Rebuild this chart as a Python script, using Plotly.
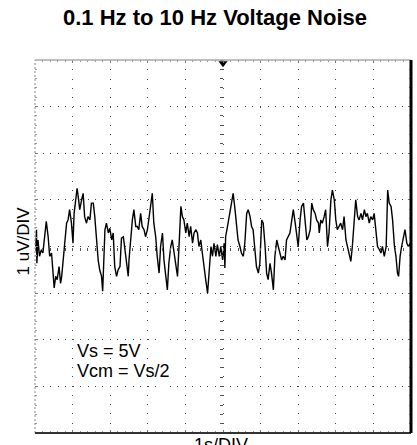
import plotly.graph_objects as go

# time in seconds (1 s/div), noise in microvolts (1 uV/div)
time_s = [
    0.02, 0.04, 0.05, 0.08, 0.12, 0.17, 0.21, 0.26, 0.30, 0.35, 0.39, 0.44, 0.48, 0.51, 0.55, 0.59,
    0.64, 0.68, 0.71, 0.75, 0.79, 0.84, 0.88, 0.92, 0.97, 1.01, 1.04, 1.08, 1.12, 1.16, 1.19, 1.24,
    1.28, 1.32, 1.37, 1.41, 1.46, 1.50, 1.55, 1.59, 1.64, 1.68, 1.72, 1.77, 1.80, 1.83, 1.86, 1.90,
    1.95, 1.99, 2.04, 2.08, 2.12, 2.17, 2.21, 2.26, 2.30, 2.35, 2.39, 2.44, 2.48,
    2.50, 2.54, 2.59, 2.63, 2.68, 2.72, 2.76, 2.81, 2.85, 2.90, 2.94, 2.99, 3.03, 3.08, 3.12, 3.16,
    3.21, 3.25, 3.30, 3.34, 3.39, 3.43, 3.48, 3.52, 3.56, 3.61, 3.65, 3.70, 3.74, 3.79, 3.83, 3.88,
    3.92, 3.96, 4.01, 4.05, 4.10, 4.14, 4.19, 4.23, 4.28, 4.32, 4.36, 4.41, 4.45, 4.50, 4.54, 4.59,
    4.63, 4.68, 4.72, 4.76, 4.81, 4.85, 4.90, 4.94, 4.99, 5.03,
    5.05, 5.07, 5.12, 5.18, 5.23, 5.27, 5.32, 5.36, 5.40, 5.45, 5.49, 5.54, 5.58, 5.63, 5.67, 5.72,
    5.76, 5.80, 5.85, 5.89, 5.94, 5.98, 6.03, 6.07, 6.12, 6.16, 6.20, 6.25, 6.29, 6.34, 6.38, 6.43,
    6.47, 6.52, 6.56, 6.60, 6.65, 6.69, 6.74, 6.78, 6.83, 6.87, 6.92, 6.96, 7.00, 7.05, 7.09, 7.14,
    7.18, 7.23, 7.27, 7.32, 7.36, 7.40, 7.45, 7.49, 7.54,
    7.56, 7.60, 7.64, 7.69, 7.73, 7.78, 7.82, 7.87, 7.91, 7.96, 8.00, 8.04, 8.09, 8.13, 8.18, 8.22,
    8.27, 8.31, 8.36, 8.40, 8.44, 8.49, 8.53, 8.58, 8.62, 8.67, 8.71, 8.76, 8.80, 8.84, 8.89, 8.93,
    8.98, 9.02, 9.07, 9.11, 9.16, 9.20, 9.24, 9.29, 9.34, 9.38, 9.42, 9.47, 9.51, 9.56, 9.60, 9.64,
    9.67, 9.71, 9.75, 9.80, 9.84, 9.89, 9.93, 9.98, 10.0,
]
noise_uv = [
    0.00, 0.36, -0.36, 0.14, -0.21, -0.07, -0.14, 0.29, 0.54, 0.21, -0.21, -0.14, -0.50, -0.89, -0.64, -0.71,
    -0.43, -0.79, -0.64, -0.29, 0.00, 0.50, 0.57, 0.79, 0.50, 0.07, 0.71, 1.07, 1.25, 1.00, 0.79, 1.00,
    1.14, 0.64, 0.50, 0.64, 0.57, 0.93, 0.93, 0.64, 0.00, -0.29, -0.50, -0.64, -0.96, -0.21, 0.36, 0.50,
    0.29, 0.39, 0.14, 0.29, -0.43, -0.64, -0.50, -0.43, 0.18, 0.21, -0.07, -0.36, -0.64,
    -0.29, 0.14, 0.57, 0.79, 0.43, 0.43, 0.36, 0.71, 0.43, 0.36, 0.21, 0.36, 0.64, 0.86, 1.14, 0.50,
    0.21, -0.21, -0.57, 0.00, 0.29, -0.29, -0.64, -0.93, -0.36, 0.00, 0.14, -0.14, -0.36, -0.64, 0.00, 0.86,
    0.64, 0.57, 0.29, 0.50, 0.21, 0.43, 0.07, 0.29, 0.36, 0.29, 0.00, 0.14, -0.14, -0.50, -0.71, -1.00,
    -0.57, 0.00, -0.21, 0.07, -0.21, 0.04, -0.21, 0.00, -0.29, 0.07,
    -0.46, 0.21, 0.43, 0.71, 0.93, 1.14, 0.79, 0.36, 0.14, 0.00, -0.14, -0.21, 0.07, 0.71, 0.79, 0.64,
    0.43, 0.36, 0.00, -0.43, -0.57, -0.36, 0.57, 0.50, 0.00, -0.57, -0.71, -0.36, -0.57, -0.93, -0.21, 0.14,
    0.00, -0.14, -0.29, -0.21, -0.29, 0.14, 0.21, 0.29, 0.57, 0.79, 0.50, 0.21, 0.00, 0.57, 0.86, 0.93,
    0.50, 0.14, 0.21, 0.36, 0.93, 0.79, 0.71, 0.57, 0.50,
    0.29, 0.57, 0.50, 0.64, 0.79, 0.00, 0.29, 1.00, 1.21, 1.00, 0.57, 0.36, 0.43, 0.50, 0.36, 0.64,
    0.14, 0.00, -0.21, -0.32, 0.00, 0.71, 1.00, 0.64, 0.57, 0.71, 0.57, 0.79, 0.64, 0.71, 0.50, 0.64,
    0.57, 0.71, 0.36, 0.00, -0.07, -0.14, 0.00, -0.21, 0.00, 1.21, 0.93, 0.86, 0.57, 0.00, -0.21, -0.57,
    -0.64, -0.21, 0.00, 0.21, 0.36, 0.07, 0.00, 0.07, 0.00,
]

title_text = "0.1 Hz to 10 Hz Voltage Noise"
x_label = "1s/DIV"
y_label = "1 uV/DIV"
note_lines = ["Vs = 5V", "Vcm = Vs/2"]

FONT = "Liberation Sans, Arial, sans-serif"
GRID = "#444444"

fig = go.Figure()
fig.add_trace(go.Scatter(
    x=time_s, y=noise_uv, mode="lines",
    line=dict(color="black", width=1.4),
    hoverinfo="skip", showlegend=False,
))
# trigger marker at top centre
fig.add_trace(go.Scatter(
    x=[5], y=[3.93], mode="markers", cliponaxis=False,
    marker=dict(symbol="triangle-down", size=8, color="black"),
    hoverinfo="skip", showlegend=False,
))

fig.update_layout(
    width=417, height=445,
    margin=dict(l=35, r=6, t=60, b=12),
    paper_bgcolor="white", plot_bgcolor="white",
    title=dict(text=f"<b>{title_text}</b>", x=215 / 417, xanchor="center",
               y=1 - 17 / 445, yanchor="middle",
               font=dict(family=FONT, size=22, color="black")),
    font=dict(family=FONT, color="black"),
)
fig.update_xaxes(
    range=[0, 10], dtick=1, showticklabels=False,
    showgrid=True, gridcolor=GRID, gridwidth=1, griddash="1px,8.3px",
    zeroline=False, showline=False,
    ticks="inside", ticklen=3, tickcolor="#777", mirror="ticks",
    minor=dict(dtick=0.2, ticks="inside", ticklen=2, tickcolor="#999", showgrid=False),
)
fig.update_yaxes(
    range=[-4, 4], dtick=1, showticklabels=False,
    showgrid=True, gridcolor=GRID, gridwidth=1, griddash="1px,6.5px",
    zeroline=False, showline=False,
    ticks="inside", ticklen=3, tickcolor="#777", mirror="ticks",
    minor=dict(dtick=0.2, ticks="inside", ticklen=2, tickcolor="#999", showgrid=False),
)

# centre cross-hair tick axes
fig.update_layout(
    xaxis2=dict(overlaying="x", matches="x", anchor="free", position=0.5,
                range=[0, 10], showgrid=False, zeroline=False, showline=False,
                showticklabels=False, ticks="outside", ticklen=3, tickcolor="#555",
                dtick=0.2),
    yaxis2=dict(overlaying="y", matches="y", anchor="free", position=0.5,
                range=[-4, 4], showgrid=False, zeroline=False, showline=False,
                showticklabels=False, ticks="outside", ticklen=3, tickcolor="#555",
                dtick=0.2),
)
fig.add_trace(go.Scatter(x=[None], y=[None], xaxis="x2", yaxis="y2",
                         showlegend=False, hoverinfo="skip"))

# screen borders
fig.add_shape(type="line", xref="paper", yref="paper", x0=0, x1=1, y0=1, y1=1,
              line=dict(color="#aaaaaa", width=1.5))
fig.add_shape(type="line", xref="paper", yref="paper", x0=0, x1=0, y0=0, y1=1,
              line=dict(color="#888888", width=1, dash="2px,2px"))
fig.add_shape(type="line", xref="paper", yref="paper", x0=0, x1=1, y0=0, y1=0,
              line=dict(color="#333333", width=2))
fig.add_shape(type="line", xref="paper", yref="paper", x0=1, x1=1, y0=0, y1=1,
              line=dict(color="black", width=3))

fig.add_annotation(text=y_label, textangle=-90, xref="paper", yref="paper",
                   x=(12 - 35) / 376, y=0.515, showarrow=False,
                   font=dict(family=FONT, size=17, color="black"))
fig.add_annotation(text=x_label, xref="paper", yref="paper",
                   x=0.495, y=0.0, yanchor="top", showarrow=False,
                   font=dict(family=FONT, size=18, color="black"))
fig.add_annotation(text=note_lines[0], x=1.07, y=-2.24, xanchor="left",
                   showarrow=False, font=dict(family=FONT, size=18, color="black"))
fig.add_annotation(text=note_lines[1], x=1.07, y=-2.67, xanchor="left",
                   showarrow=False, font=dict(family=FONT, size=18, color="black"))

fig.write_html(
    "out.html",
    config={"displayModeBar": False},
    post_script="document.body.style.margin='0';document.body.style.overflow='hidden';",
)
